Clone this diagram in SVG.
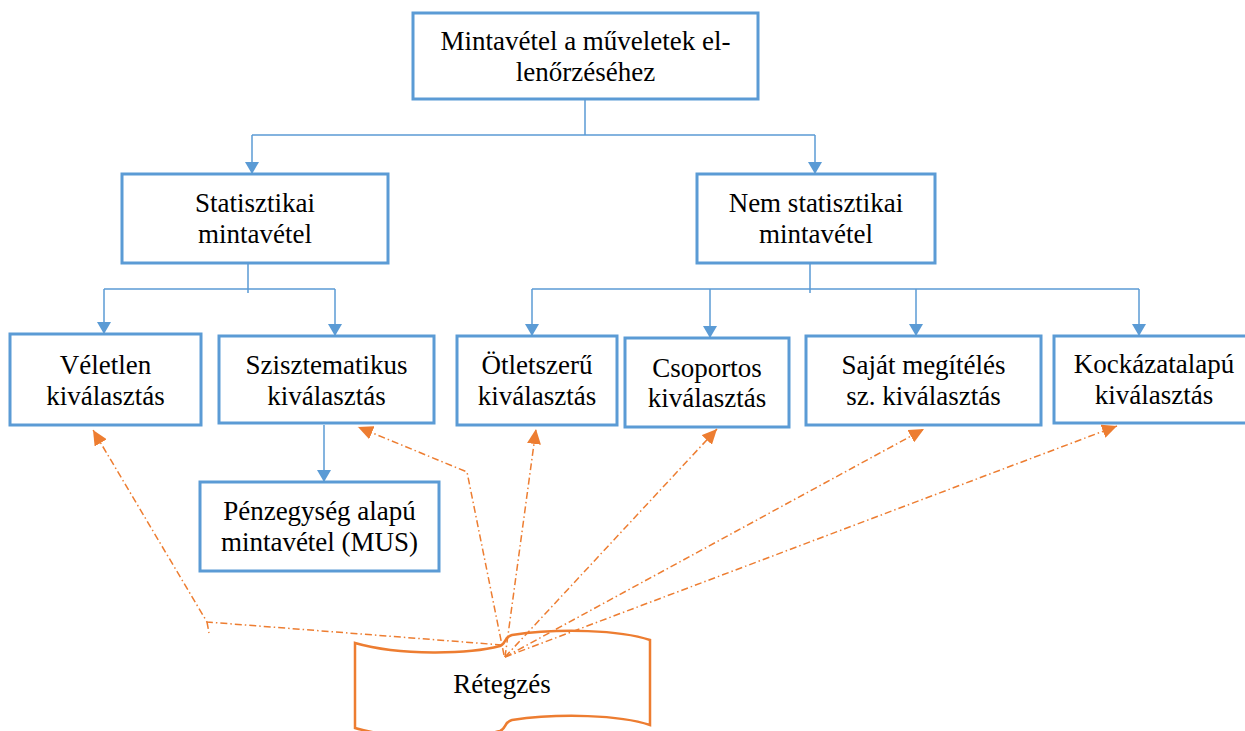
<svg xmlns="http://www.w3.org/2000/svg" width="1245" height="731" viewBox="0 0 1245 731">
<style>
.box{fill:#fff;stroke:#5B9BD5;stroke-width:3}
.t{font-family:"Liberation Serif","Times New Roman",serif;font-size:27px;fill:#000;text-anchor:middle}
.c{fill:none;stroke:#5B9BD5;stroke-width:1.5}
.o{fill:none;stroke:#ED7D31;stroke-width:1.5;stroke-dasharray:7 3 1.5 3}
</style>
<defs>
<marker id="ab" viewBox="0 0 12 14" refX="12" refY="7" markerWidth="12" markerHeight="14" markerUnits="userSpaceOnUse" orient="auto"><path d="M0,0 L12,7 L0,14 Z" fill="#5B9BD5"/></marker>
<marker id="ao" viewBox="0 0 15 14" refX="15" refY="7" markerWidth="15" markerHeight="14" markerUnits="userSpaceOnUse" orient="auto"><path d="M0,0 L15,7 L0,14 Z" fill="#ED7D31"/></marker>
</defs>
<rect width="1245" height="731" fill="#fff"/>
<g id="n-top"><rect class="box" x="413" y="13" width="345" height="86"/><text class="t" x="585.5" y="50">Mintavétel a műveletek el-</text><text class="t" x="585.5" y="81">lenőrzéséhez</text></g>
<g id="n-stat"><rect class="box" x="122" y="174" width="266" height="89"/><text class="t" x="255" y="212">Statisztikai</text><text class="t" x="255" y="243">mintavétel</text></g>
<g id="n-nem"><rect class="box" x="697" y="174" width="238" height="89"/><text class="t" x="816" y="212">Nem statisztikai</text><text class="t" x="816" y="243">mintavétel</text></g>
<g id="n-vel"><rect class="box" x="10" y="334" width="191" height="91"/><text class="t" x="105.5" y="374">Véletlen</text><text class="t" x="105.5" y="405">kiválasztás</text></g>
<g id="n-szi"><rect class="box" x="219" y="336" width="215" height="87"/><text class="t" x="326.5" y="374">Szisztematikus</text><text class="t" x="326.5" y="405">kiválasztás</text></g>
<g id="n-otl"><rect class="box" x="457" y="336" width="160" height="89"/><text class="t" x="537" y="374">Ötletszerű</text><text class="t" x="537" y="405">kiválasztás</text></g>
<g id="n-csop"><rect class="box" x="625" y="338" width="164" height="89"/><text class="t" x="707" y="377">Csoportos</text><text class="t" x="707" y="407">kiválasztás</text></g>
<g id="n-saj"><rect class="box" x="806" y="336" width="235" height="89"/><text class="t" x="923.5" y="374">Saját megítélés</text><text class="t" x="923.5" y="405">sz. kiválasztás</text></g>
<g id="n-kock"><rect class="box" x="1054" y="336" width="201" height="87"/><text class="t" x="1154" y="373">Kockázatalapú</text><text class="t" x="1154" y="404">kiválasztás</text></g>
<g id="n-penz"><rect class="box" x="200" y="482" width="239" height="89"/><text class="t" x="319.5" y="520">Pénzegység alapú</text><text class="t" x="319.5" y="551">mintavétel (MUS)</text></g>
<g id="n-ret"><path d="M355,643 C400,656 470,654 500,646 C506,644 504,637 512,635 C560,628 620,630 650,640 L650,725 C620,715 560,713 512,720 C504,722 506,729 500,731 C470,739 400,741 355,728 Z" fill="#fff" stroke="#ED7D31" stroke-width="2.5"/><text class="t" x="502" y="693">Rétegzés</text></g>
<g id="connectors">
<path class="c" d="M585,99 V135 M252,135 H815"/>
<path class="c" d="M252,135 V174" marker-end="url(#ab)"/>
<path class="c" d="M815,135 V174" marker-end="url(#ab)"/>
<path class="c" d="M248,263 V293 M104,289 H335"/>
<path class="c" d="M104,289 V334" marker-end="url(#ab)"/>
<path class="c" d="M335,289 V336" marker-end="url(#ab)"/>
<path class="c" d="M810,263 V293 M532,289 H1139"/>
<path class="c" d="M532,289 V336" marker-end="url(#ab)"/>
<path class="c" d="M710,289 V338" marker-end="url(#ab)"/>
<path class="c" d="M916,289 V336" marker-end="url(#ab)"/>
<path class="c" d="M1139,289 V336" marker-end="url(#ab)"/>
<path class="c" d="M324,425 V482" marker-end="url(#ab)"/>
<path class="o" d="M502,645 L207,622 L93,430" marker-end="url(#ao)"/>
<path class="o" d="M207,622 L209,633"/>
<path class="o" d="M504,655 L467,472 L358,427" marker-end="url(#ao)"/>
<path class="o" d="M505,657 L536,429" marker-end="url(#ao)"/>
<path class="o" d="M505,657 L717,429" marker-end="url(#ao)"/>
<path class="o" d="M505,657 L924,429" marker-end="url(#ao)"/>
<path class="o" d="M505,657 L1117,426" marker-end="url(#ao)"/>
</g>
</svg>
